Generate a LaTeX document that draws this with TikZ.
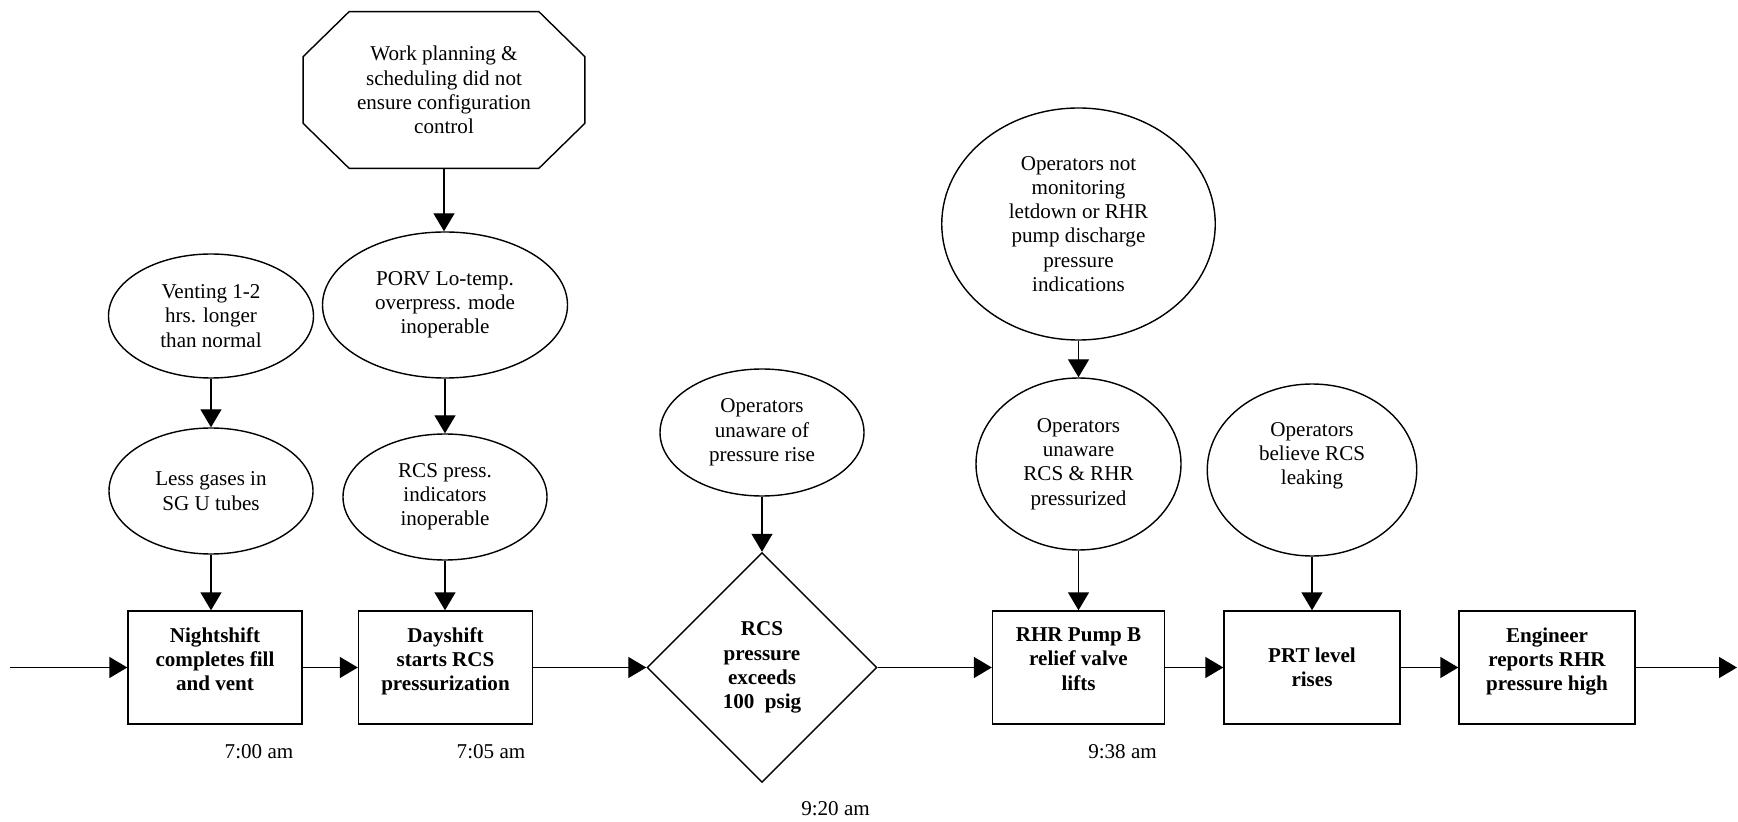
\documentclass[tikz,border=0pt]{standalone}
\usepackage{fontspec}
\setmainfont{Liberation Serif}
\usetikzlibrary{shapes.geometric,arrows.meta,positioning}

\tikzset{
  cause/.style={ellipse, draw, line width=0.8pt, align=center, inner sep=0pt},
  event/.style={rectangle, draw, line width=0.8pt, align=center,
    font=\fontsize{12}{13.8}\selectfont\bfseries,
    minimum width=3.48cm, minimum height=2.26cm},
  link/.style={line width=0.8pt, -{Triangle[length=0.36cm,width=0.42cm]}},
}

\begin{document}
\begin{tikzpicture}[font=\fontsize{12}{13.8}\selectfont]

    % Define the height of the time line and the column positions
    \def\yline{3.07}
    \def\xa{4.22}
    \def\xb{8.90}
    \def\xc{15.24}
    \def\xd{21.57}
    \def\xe{26.24}

    \useasboundingbox (0,0) rectangle (34.76,16.42);

    % Events along the time line
    \node[event, text depth=0.34cm] (night) at (4.30,\yline) {Nightshift\\completes fill\\and vent};
    \node[event, text depth=0.34cm] (day) at (8.91,\yline) {Dayshift\\starts RCS\\pressurization};
    \node[diamond, aspect=1, draw, line width=0.8pt, align=center, inner sep=0pt,
      minimum size=4.6cm, font=\fontsize{12}{13.8}\selectfont\bfseries] (rcs) at (\xc,\yline)
      {RCS\\pressure\\exceeds\\100~~psig};
    \node[event, text depth=0.34cm, minimum width=3.44cm] (pump) at (\xd,\yline) {RHR Pump B\\relief valve\\lifts};
    \node[event, minimum width=3.52cm] (prt) at (\xe,\yline) {PRT level\\rises};
    \node[event, text depth=0.34cm, minimum width=3.52cm] (eng) at (30.94,\yline) {Engineer\\reports RHR\\pressure high};

    % Free ends of the time line
    \coordinate (start) at (0.2,\yline);
    \coordinate (stop) at (34.74,\yline);

    % Times of the events
    \node (t1) at (5.18,1.38) {7:00 am};
    \node (t2) at (9.82,1.38) {7:05 am};
    \node (t3) at (16.71,0.24) {9:20 am};
    \node (t4) at (22.45,1.38) {9:38 am};

    % Causal factors above the events
    \node (plan) at (8.88,14.62) [minimum width=5.62cm, minimum height=3.12cm, align=center]
      {Work planning \&\\scheduling did not\\ensure configuration\\control};
    \draw[line width=0.8pt]
      ([xshift=0.92cm]plan.north west) -- ([xshift=-0.92cm]plan.north east)
      -- ([yshift=-0.9cm]plan.north east) -- ([yshift=0.9cm]plan.south east)
      -- ([xshift=-0.92cm]plan.south east) -- ([xshift=0.92cm]plan.south west)
      -- ([yshift=0.9cm]plan.south west) -- ([yshift=-0.9cm]plan.north west) -- cycle;

    \node[cause, minimum width=4.10cm, minimum height=2.48cm] (vent) at (\xa,10.10)
      {Venting 1-2\\hrs. longer\\than normal};
    \node[cause, minimum width=4.90cm, minimum height=2.92cm] (porv) at (\xb,10.32)
      {PORV Lo-temp.\\overpress. mode\\inoperable};
    \node[cause, minimum width=4.08cm, minimum height=2.52cm] (less) at (\xa,6.60)
      {Less gases in\\SG U tubes};
    \node[cause, minimum width=4.08cm, minimum height=2.52cm] (ind) at (\xb,6.48)
      {RCS press.\\indicators\\inoperable};
    \node[cause, minimum width=4.08cm, minimum height=2.54cm] (unaw) at (\xc,7.77)
      {Operators\\unaware of\\pressure rise};
    \node[cause, minimum width=5.47cm, minimum height=4.64cm] (mon) at (\xd,11.94)
      {Operators not\\monitoring\\letdown or RHR\\pump discharge\\pressure\\indications};
    \node[cause, minimum width=4.10cm, minimum height=3.44cm] (unrhr) at (\xd,7.14)
      {Operators\\unaware\\RCS \& RHR\\pressurized};
    \node[cause, minimum width=4.19cm, minimum height=3.44cm, text depth=0.66cm] (leak) at (\xe,7.02)
      {Operators\\believe RCS\\leaking};

    % Time line arrows
    \draw[link] (start) -- (night);
    \draw[link] (night) -- (day);
    \draw[link] (day) -- (rcs);
    \draw[link] (rcs) -- (pump);
    \draw[link] (pump) -- (prt);
    \draw[link] (prt) -- (eng);
    \draw[link] (eng) -- (stop);

    % Arrows from the causal factors
    \draw[link] (vent) -- (less);
    \draw[link] (less) -- (less |- night.north);
    \draw[link] (plan) -- (plan |- porv.north);
    \draw[link] (porv) -- (ind);
    \draw[link] (ind) -- (ind |- day.north);
    \draw[link] (unaw) -- (rcs);
    \draw[link] (mon) -- (unrhr);
    \draw[link] (unrhr) -- (pump);
    \draw[link] (leak) -- (prt);

\end{tikzpicture}
\end{document}
